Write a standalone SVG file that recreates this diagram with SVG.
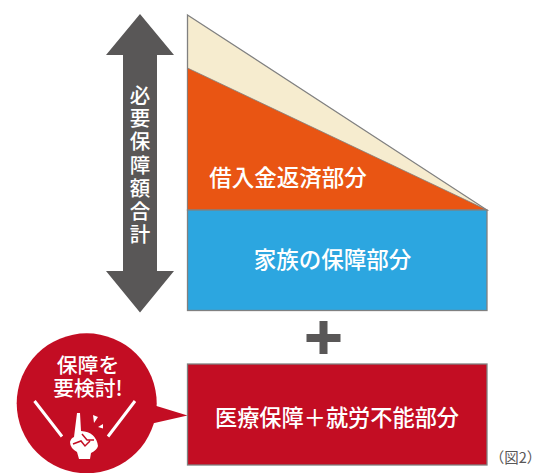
<svg xmlns="http://www.w3.org/2000/svg" width="542" height="473" viewBox="0 0 542 473">
<style>
text{font-family:"Noto Sans CJK JP","Noto Sans",sans-serif;fill:#fff;text-anchor:middle;font-weight:500}
.b{stroke:#808080;stroke-width:1.3}
.w{stroke:#fff;stroke-width:3;fill:none}
</style>
<rect width="542" height="473" fill="#fff"/>
<g id="arrow">
<polygon points="140,14 174,55 157,55 157,271 174,271 140,312.500 106,271 123,271 123,55 106,55" fill="#595757"/>
<text x="140" y="85" font-size="20.500" letter-spacing="2.700" style="writing-mode:vertical-rl;text-anchor:start">必要保障額合計</text>
</g>
<g id="top-triangle">
<polygon class="b" points="187.500,15 487,210 187.500,210" fill="#f6eccf"/>
</g>
<g id="loan">
<polygon points="187.500,68 487,210 187.500,210" fill="#e95513" stroke="#808080" stroke-width="0.800"/>
<text x="288" y="186" font-size="22.500">借入金返済部分</text>
</g>
<g id="family">
<rect class="b" x="187.500" y="210" width="299.500" height="100.500" fill="#2ca6e0"/>
<text x="332.500" y="268" font-size="22.500">家族の保障部分</text>
</g>
<g id="plus">
<path d="M319.500,321h8v13h13v8h-13v12h-8v-12h-13v-8h13z" fill="#595757"/>
</g>
<g id="medical">
<rect class="b" x="187.500" y="364" width="299.500" height="101" fill="#c30d23"/>
<text x="337" y="426" font-size="22.200">医療保障＋就労不能部分</text>
</g>
<g id="callout">
<circle cx="86.700" cy="403.300" r="70" fill="#c30d23"/>
<polygon points="150,404 187.500,415.500 150,424" fill="#c30d23"/>
<text font-size="20.800"><tspan x="88" y="373">保障を</tspan><tspan x="88" y="395.500">要検討!</tspan></text>
<path class="w" d="M34.500,401 L62,436.500 M135,401 L108,436.500"/>
<path d="M74,437 L77,413 L80,413 L81,431 Q96,432 98,446 Q97,450 91,453 L90,459 L79,459 L77,452 Q70,448 70,442 Q71,438 74,437Z" fill="#fff"/>
<path d="M93,415 L98,417 L94,423Z M98,427 L103,424 L103,428.500Z" fill="#fff"/>
<path d="M73,444 L81,441 L85,446 L90,441 M82,434 L87,440 L94,440" stroke="#c30d23" stroke-width="1.500" fill="none"/>
</g>
<g id="caption">
<text x="515.500" y="463" font-size="14.500" style="fill:#595757;font-weight:400">（図2）</text>
</g>
</svg>
